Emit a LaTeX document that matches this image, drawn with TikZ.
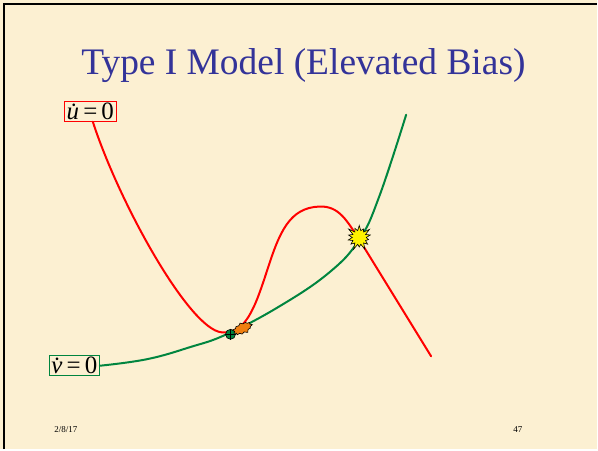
\documentclass[tikz,border=0pt]{standalone}
\usepackage{fontspec}
\setmainfont{Liberation Serif}
\usetikzlibrary{shapes.symbols}
\definecolor{papier}{HTML}{FCF0D2}
\definecolor{titelblau}{HTML}{333399}
\definecolor{nullrot}{HTML}{FF0000}
\definecolor{nullgruen}{HTML}{00853F}
\definecolor{sattelorange}{HTML}{F07F10}

\begin{document}
\begin{tikzpicture}[x=1pt, y=-1pt,
        labelbox/.style={draw, line width=0.9pt, fill=papier, inner xsep=2pt, inner ysep=1pt,
                         text height=17pt, text depth=1pt, font=\fontsize{25}{25}\selectfont},
        nullkurve/.style={line width=2pt, line join=round, line cap=round},
        knall/.style={starburst, draw=black, line width=0.6pt, inner sep=0pt}
      ]
      % Hintergrund und Rahmen
      \fill[papier] (0,0) rectangle (598,450);
      \draw[line width=2.5pt] (4,450) -- (4,4) -- (598,4);
      \useasboundingbox (0,0) rectangle (598,450);

      % Titel
      \node[titelblau, font=\fontsize{37.5}{37.5}\selectfont] (titel) at (304,66) {Type I Model (Elevated Bias)};

      % Nullklinen
      \node[labelbox, draw=nullrot] (ulab) at (90.5,112) {\itshape\.u\upshape\,=\,0};
      \node[labelbox, draw=nullgruen] (vlab) at (74.5,366.5) {\itshape\.v\upshape\,=\,0};

      \coordinate (uanf) at (93,122);
      \coordinate (uend) at (432,357);
      \draw[nullkurve, nullrot] (uanf) .. controls (120,205) and (190,330) .. (222,333)
        .. controls (246,335) and (255,310) .. (268,270)
        .. controls (280,233) and (290,208) .. (320,207)
        .. controls (340,206) and (348,222) .. (360,240)
        -- (uend);
      \draw[nullkurve, nullgruen] plot[smooth, tension=0.7] coordinates {
        (vlab.east) (147,360) (190,348) (227,335) (280,307) (330,273)
        (360,240) (380,197) (407,115)};

      % Fixpunkte
      \node[circle, draw=black, line width=0.6pt, fill=nullgruen, minimum size=10pt, inner sep=0pt] (stabil) at (231,335) {};
      \draw[line width=0.5pt] (stabil.north) -- (stabil.south) (stabil.west) -- (stabil.east);
      \node[knall, fill=sattelorange, minimum width=22pt, minimum height=13pt, rotate=25,
            starburst points=11, starburst point height=2.5pt] (sattel) at (243,329) {};
      \node[knall, fill=yellow, minimum size=28pt, starburst points=14,
            starburst point height=7pt] (instabil) at (360,238) {};

      % Fusszeile
      \node[font=\fontsize{9}{9}\selectfont] (datum) at (66,430) {2/8/17};
      \node[font=\fontsize{9}{9}\selectfont] (seite) at (519,430) {47};
    \end{tikzpicture}
\end{document}
